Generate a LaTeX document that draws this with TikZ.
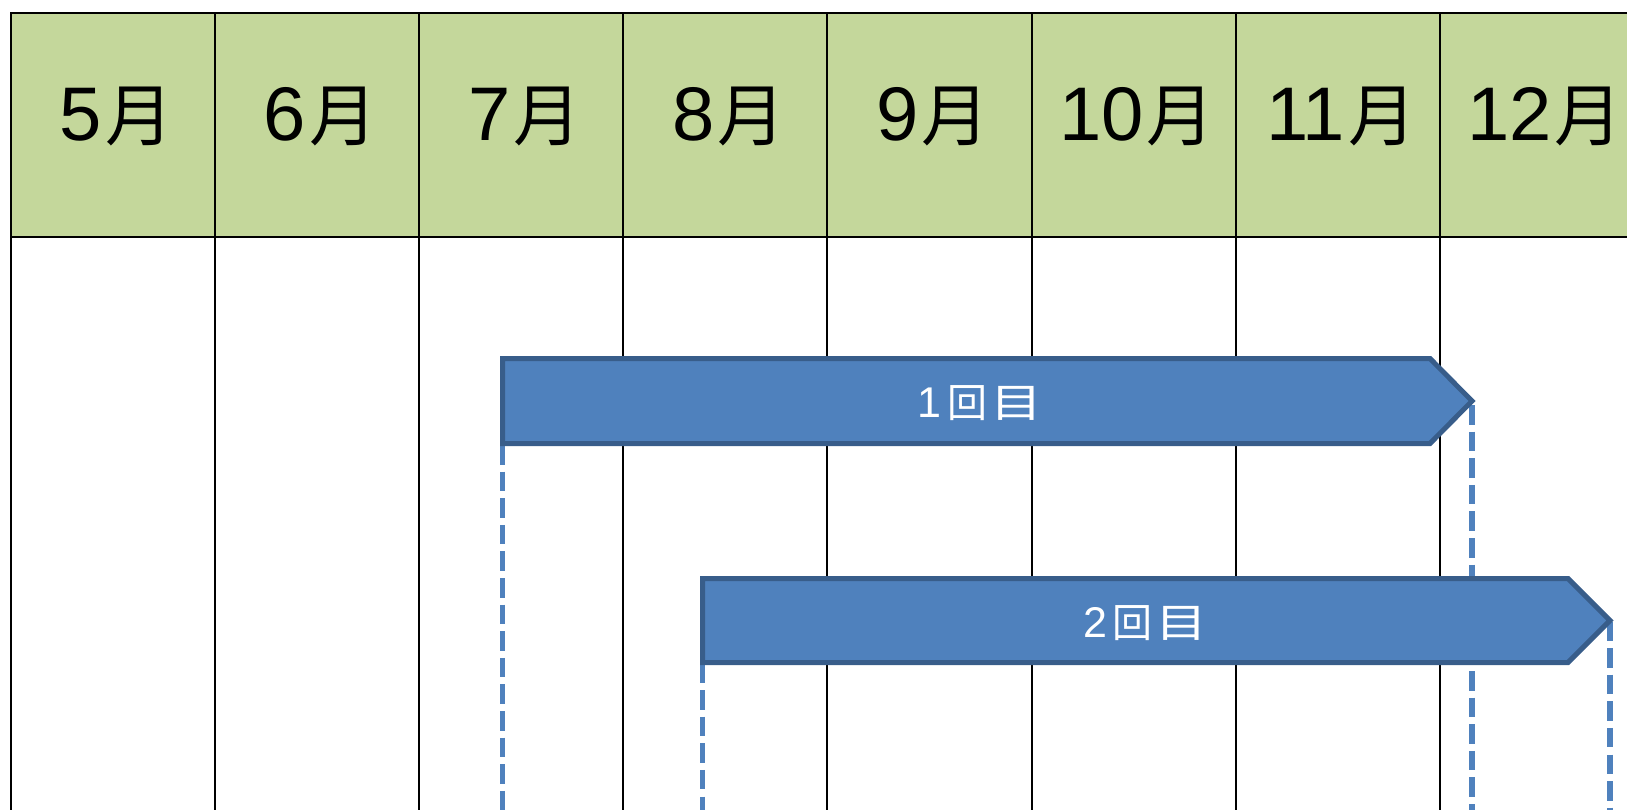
\documentclass[tikz,border=0pt]{standalone}
\usepackage{fontspec}
\newfontfamily\jp{Noto Sans CJK JP}
\newfontfamily\latn{Liberation Sans}
\definecolor{hdr}{HTML}{C4D79B}
\definecolor{barfill}{HTML}{4F81BD}
\definecolor{barline}{HTML}{385D8A}
\newcommand{\hdrlabel}[1]{{\latn\fontsize{76}{76}\selectfont #1}\hspace{3pt}{\jp\fontsize{68}{68}\selectfont 月}}
\newcommand{\barlabel}[1]{{\latn\fontsize{43}{43}\selectfont #1}\hspace{6pt}{\jp\fontsize{40}{40}\selectfont 回\hspace{3pt}\scalebox{1.3}[1]{目}}}
\begin{document}
\begin{tikzpicture}[x=1pt,y=-1pt,
  gridline/.style={line width=2pt, black},
  hdrtext/.style={anchor=base, inner sep=0pt},
  bartext/.style={text=white, anchor=base, inner sep=0pt},
  gantt/.style={fill=barfill, draw=barline, line width=5pt, line join=miter},
  guide/.style={draw=barfill, line width=5.5pt, dash pattern=on 19.5pt off 7.1pt}]
\useasboundingbox (0,0) rectangle (1627,809);
\clip (0,0) rectangle (1627,809);
% header band
\fill[hdr] (11,13) rectangle (1660,236.7);
% grid
\foreach \i in {0,...,7}
  \draw[gridline] ({11+204.1*\i},12) -- ({11+204.1*\i},815);
\draw[gridline] (10,13) -- (1660,13);
\draw[gridline] (10,236.7) -- (1660,236.7);
% month labels
\foreach \m [count=\i from 0] in {5,...,12}
  \node[hdrtext] (m\m) at ({116.5+204.1*\i},140) {\hdrlabel{\m}};
% bar geometry
\coordinate (b1sw) at (502.5,443.5);
\coordinate (b1tip) at (1472,401);
\coordinate (b2sw) at (702.5,662.5);
\coordinate (b2tip) at (1610,620.5);
\coordinate (g1a) at (502.5,812);
\coordinate (g1b) at (1472,812);
\coordinate (g2a) at (702.5,812);
\coordinate (g2b) at (1610,812);
% dashed guides
\draw[guide] ([yshift=-1.5pt]b1sw) -- (g1a);
\draw[guide] ([yshift=-4pt]b1tip) -- (g1b);
\draw[guide] ([yshift=-1pt]b2sw) -- (g2a);
\draw[guide] ([yshift=-1pt]b2tip) -- (g2b);
% bars
\draw[gantt] (502.5,358.5) -- (1430,358.5) -- (b1tip) -- (1430,443.5) -- (b1sw) -- cycle;
\draw[gantt] (702.5,578.5) -- (1568,578.5) -- (b2tip) -- (1568,662.5) -- (b2sw) -- cycle;
\node[bartext] (t1) at (980,417.5) {\barlabel{1}};
\node[bartext] (t2) at (1145.5,637) {\barlabel{2}};
\end{tikzpicture}
\end{document}
